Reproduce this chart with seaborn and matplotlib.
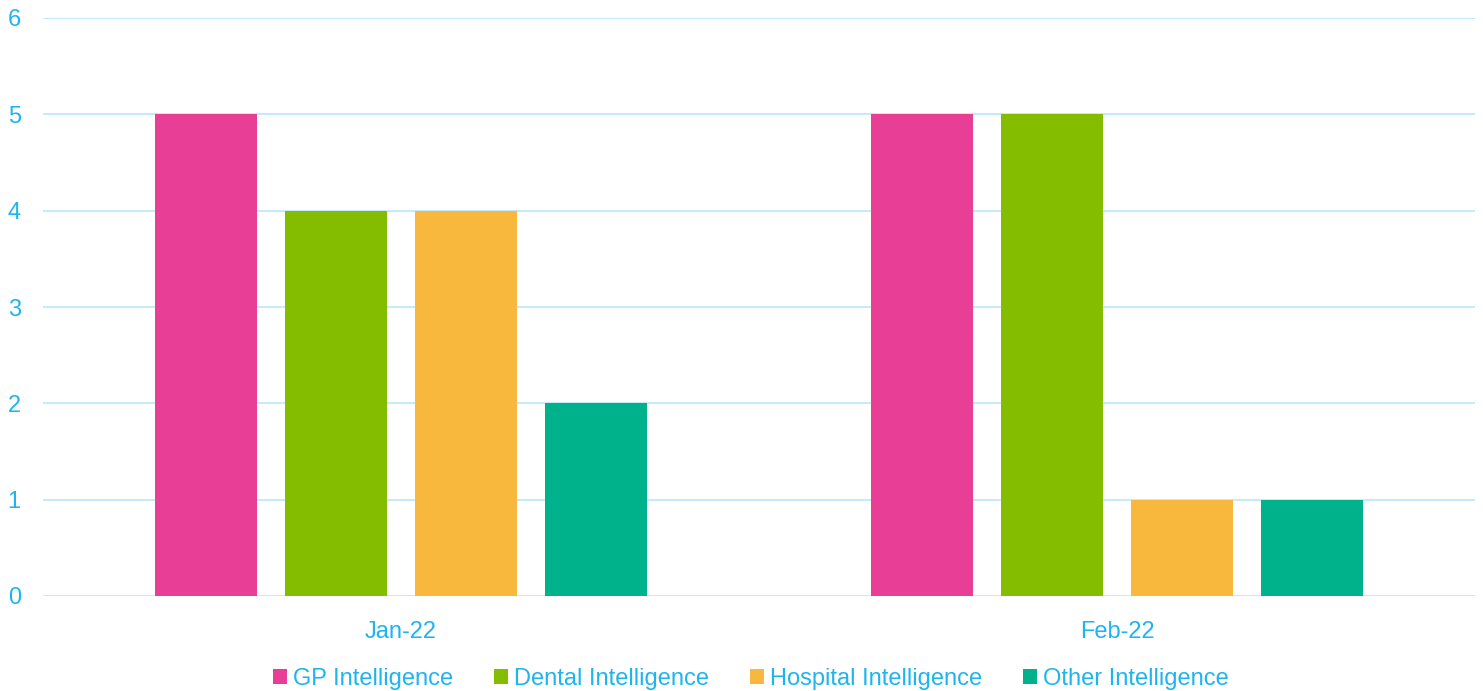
import pandas as pd
import matplotlib
matplotlib.use("Agg")
import matplotlib.pyplot as plt
import seaborn as sns

months = ["Jan-22", "Feb-22"]
series = ["GP Intelligence", "Dental Intelligence", "Hospital Intelligence", "Other Intelligence"]
gp = [5, 5]
dental = [4, 5]
hospital = [4, 1]
other = [2, 1]
colors = ["#E83E96", "#84BD00", "#F8B83E", "#00B28B"]

df = pd.DataFrame({
    "month": months * 4,
    "series": [s for s in series for _ in months],
    "value": gp + dental + hospital + other,
})

text_col = "#1EB4F0"
grid_col = "#C5EAFA"

sns.set_theme(style="white")
plt.rcParams["font.family"] = ["Liberation Sans", "DejaVu Sans"]

fig = plt.figure(figsize=(14.83, 6.91), dpi=100)
ax = fig.add_axes([43 / 1483, 1 - 596 / 691, 1432 / 1483, 578 / 691])

sns.barplot(data=df, x="month", y="value", hue="series", order=months,
            hue_order=series, palette=colors, saturation=1,
            width=0.7264, gap=0.215, linewidth=0, ax=ax, zorder=3)

ax.set_xlim(-0.5, 1.5)
ax.set_ylim(0, 6)
ax.set_yticks(range(0, 7))
ax.grid(axis="y", color=grid_col, linewidth=1.4, zorder=0)
ax.set_axisbelow(True)
for s in ax.spines.values():
    s.set_visible(False)
ax.tick_params(axis="both", length=0, labelsize=17, labelcolor=text_col)
ax.tick_params(axis="y", pad=16)
ax.tick_params(axis="x", pad=18)
ax.set_xlabel("")
ax.set_ylabel("")

handles, labels = ax.get_legend_handles_labels()
ax.get_legend().remove()
leg = fig.legend(handles, labels, loc="center", bbox_to_anchor=(0.5065, 1 - 679 / 691),
                 ncol=4, frameon=False, fontsize=17, handlelength=0.6, handleheight=0.6,
                 handletextpad=0.25, columnspacing=1.73)
for t in leg.get_texts():
    t.set_color(text_col)

fig.savefig("out.png", dpi=100)
